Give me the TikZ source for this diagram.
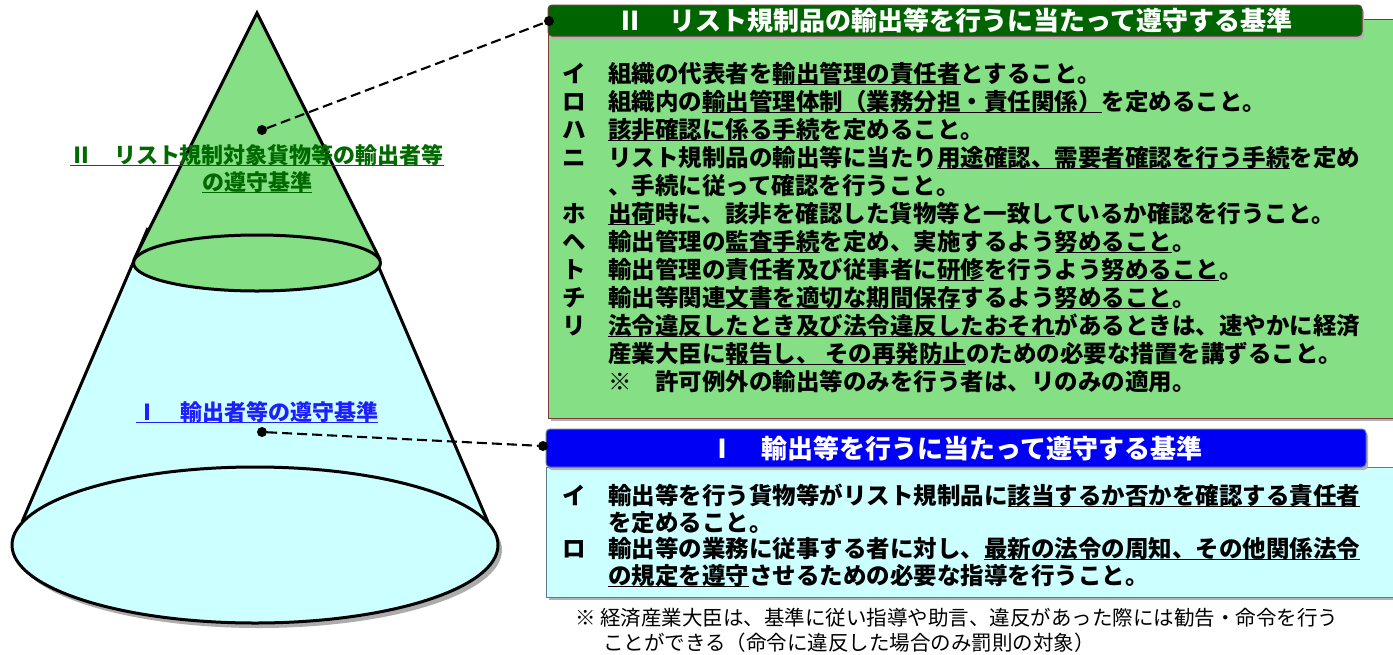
\documentclass[tikz,border=0pt]{standalone}
\usepackage{fontspec}
\newfontfamily\jp{Noto Sans CJK JP}
\definecolor{boxgreen}{RGB}{133,224,133}
\definecolor{hdrgreen}{RGB}{0,100,0}
\definecolor{boxcyan}{RGB}{204,255,255}
\definecolor{hdrblue}{RGB}{0,0,245}
\definecolor{lblgreen}{RGB}{0,105,0}
\definecolor{lblblue}{RGB}{30,30,255}
\definecolor{maroonedge}{RGB}{120,60,60}
\definecolor{cyanedge}{RGB}{100,120,140}
\newcommand\ulin[1]{\setbox0\hbox{#1}\rlap{\rule[-3pt]{\wd0}{1.3pt}}\box0}
\begin{document}
\begin{tikzpicture}[x=1pt,y=-1pt,
  ln/.style={anchor=base west, inner sep=0pt, font=\jp\bfseries\fontsize{23.5}{28}\selectfont},
  fn/.style={anchor=base west, inner sep=0pt, font=\jp\fontsize{20.5}{24}\selectfont},
  lbl/.style={anchor=base, inner sep=0pt, font=\jp\bfseries\fontsize{22}{26}\selectfont},
  hdr/.style={rounded corners=4pt, line width=1pt, text=white, inner sep=0pt,
              font=\jp\bfseries\fontsize{26}{30}\selectfont},
  body/.style={rectangle, line width=1pt, inner sep=0pt},
  dot/.style={circle, fill=black, inner sep=0pt, minimum size=10pt},
  leader/.style={draw=black, line width=2.1pt, dash pattern=on 10pt off 5pt},
  outline/.style={line width=3pt, line join=round}]
\useasboundingbox (0,0) rectangle (1393,654);
\fill[white] (0,0) rectangle (1393,654);

% ---------- cone ----------
\fill[gray!65] (259,550) ellipse [x radius=243, y radius=78];
\fill[boxcyan] (148,228) -- (22,522) -- (488,522) -- (362,228) -- cycle;
\draw[outline, fill=boxcyan] (255,545) ellipse [x radius=243, y radius=78];
\draw[outline] (148,228) -- (22,522);
\draw[outline] (362,228) -- (488,522);
\fill[boxgreen] (133.8,260) -- (257,13) -- (380.2,260) -- cycle;
\draw[outline, line join=miter] (133.8,260) -- (257,13) -- (380.2,260);
\draw[outline, fill=boxgreen] (257,263) ellipse [x radius=123.5, y radius=28];

\node[lbl, text=lblgreen] (l2a) at (257,163) {\ulin{Ⅱ　リスト規制対象貨物等の輸出者等}};
\node[lbl, text=lblgreen] (l2b) at (257,190) {\ulin{の遵守基準}};
\node[lbl, text=lblblue] (l1) at (257,420) {\ulin{Ⅰ　輸出者等の遵守基準}};

% ---------- green box ----------
\fill[gray!60] (551,22) rectangle (1400,421);
\node[body, draw=maroonedge, fill=boxgreen, minimum width=852pt, minimum height=399pt]
  (gbox) at (974,218.5) {};
\fill[gray!60, rounded corners=4pt] (550,8) rectangle (1364,39);
\node[hdr, draw=maroonedge, fill=hdrgreen, minimum width=814pt, minimum height=31pt]
  (h2) at (955,20.5) {Ⅱ　リスト規制品の輸出等を行うに当たって遵守する基準};

\node[ln] (m1) at (562,82) {イ};
\node[ln] (t1) at (608,82) {組織の代表者を\ulin{輸出管理の責任者}とすること。};
\node[ln] (m2) at (562,110) {ロ};
\node[ln] (t2) at (608,110) {組織内の\ulin{輸出管理体制（業務分担・責任関係）}を定めること。};
\node[ln] (m3) at (562,138) {ハ};
\node[ln] (t3) at (608,138) {\ulin{該非確認に係る手続}を定めること。};
\node[ln] (m4) at (562,166) {ニ};
\node[ln] (t4) at (608,166) {リスト規制品の輸出等に当たり\ulin{用途確認、需要者確認を行う手続}を定め};
\node[ln] (t4b) at (608,194) {、手続に従って確認を行うこと。};
\node[ln] (m5) at (562,222) {ホ};
\node[ln] (t5) at (608,222) {\ulin{出荷}時に、該非を確認した貨物等と一致しているか確認を行うこと。};
\node[ln] (m6) at (562,250) {ヘ};
\node[ln] (t6) at (608,250) {輸出管理の\ulin{監査手続}を定め、実施するよう\ulin{努めること}。};
\node[ln] (m7) at (562,278) {ト};
\node[ln] (t7) at (608,278) {輸出管理の責任者及び従事者に\ulin{研修}を行うよう\ulin{努めること}。};
\node[ln] (m8) at (562,306) {チ};
\node[ln] (t8) at (608,306) {輸出等関連\ulin{文書を適切な期間保存}するよう\ulin{努めること}。};
\node[ln] (m9) at (562,334) {リ};
\node[ln] (t9) at (608,334) {\ulin{法令違反したとき及び法令違反したおそれ}があるときは、速やかに経済};
\node[ln] (t9b) at (608,362) {産業大臣に\ulin{報告し、 その再発防止}のための必要な措置を講ずること。};
\node[ln] (t9c) at (608,390) {※　許可例外の輸出等のみを行う者は、リのみの適用。};

% ---------- cyan box ----------
\fill[gray!60] (549,470) rectangle (1400,600);
\node[body, draw=cyanedge, fill=boxcyan, minimum width=854pt, minimum height=130pt]
  (cbox) at (973,532) {};
\fill[gray!60, rounded corners=4pt] (548,432) rectangle (1368,470);
\node[hdr, draw=cyanedge, fill=hdrblue, minimum width=820pt, minimum height=38pt]
  (h1) at (956,448) {Ⅰ　輸出等を行うに当たって遵守する基準};

\node[ln] (n1) at (562,504) {イ};
\node[ln] (s1) at (608,504) {輸出等を行う貨物等がリスト規制品に\ulin{該当するか否かを確認する責任者}};
\node[ln] (s1b) at (608,531) {を定めること。};
\node[ln] (n2) at (562,557) {ロ};
\node[ln] (s2) at (608,557) {輸出等の業務に従事する者に対し、\ulin{最新の法令の周知、その他関係法令}};
\node[ln] (s2b) at (608,584) {\ulin{の規定を遵守}させるための必要な指導を行うこと。};

% ---------- footnote ----------
\node[fn] (f1) at (575,625) {※ 経済産業大臣は、基準に従い指導や助言、違反があった際には勧告・命令を行う};
\node[fn] (f2) at (603,650) {ことができる（命令に違反した場合のみ罰則の対象）};

% ---------- leaders ----------
\node[dot] (d2a) at (262,130) {};
\node[dot] (d2b) at (549,21) {};
\draw[leader] (d2a) -- (d2b);
\node[dot] (d1a) at (262,432) {};
\node[dot] (d1b) at (543,446) {};
\draw[leader] (d1a) -- (d1b);
\end{tikzpicture}
\end{document}
